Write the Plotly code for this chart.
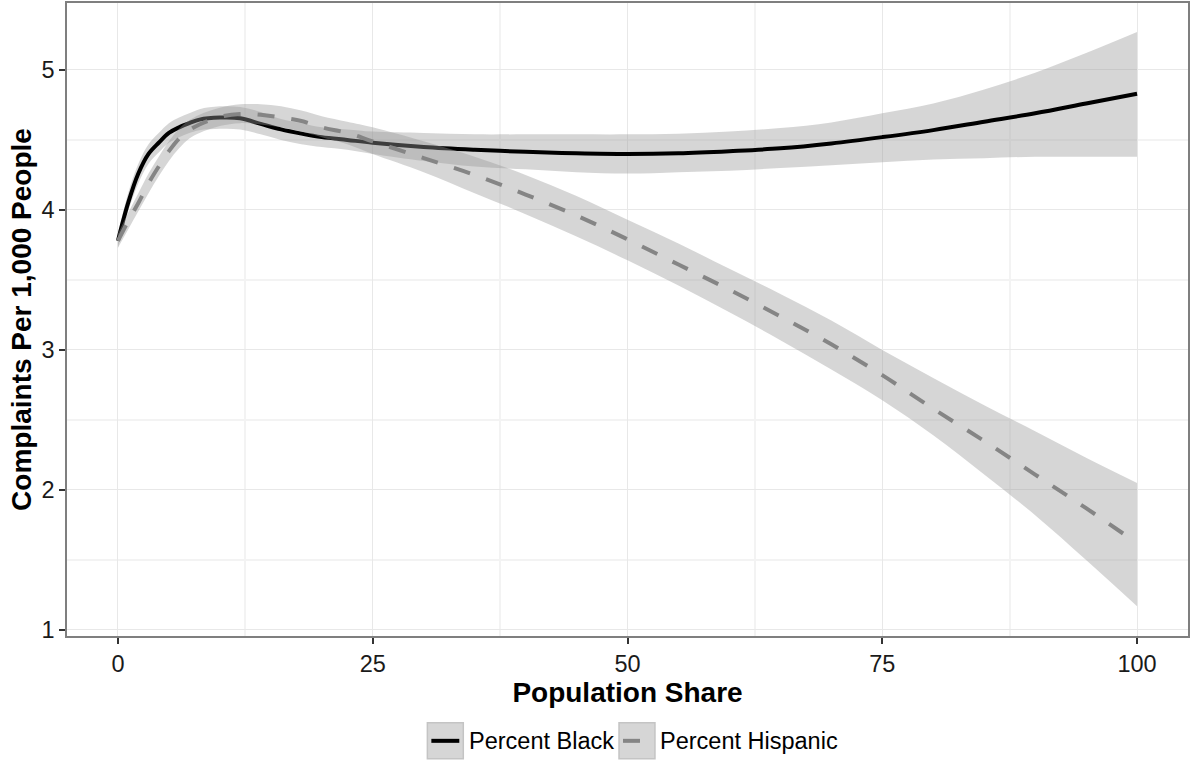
import plotly.graph_objects as go

# ---- data ----
x_share = [0, 1, 2, 3, 4, 5, 6, 7, 8, 10, 12, 14, 16, 18, 20, 22.5, 25, 30, 35, 40,
           45, 50, 55, 60, 65, 70, 75, 80, 85, 90, 95, 100]

black_fit = [3.78, 4.05, 4.26, 4.40, 4.48, 4.55, 4.59, 4.62, 4.645, 4.66, 4.655, 4.615,
             4.575, 4.545, 4.52, 4.50, 4.48, 4.45, 4.43, 4.415, 4.405, 4.40, 4.405, 4.42,
             4.44, 4.475, 4.52, 4.57, 4.63, 4.69, 4.76, 4.83]
black_lower = [3.73, 3.99, 4.19, 4.33, 4.41, 4.48, 4.52, 4.55, 4.57, 4.58, 4.575, 4.54,
               4.50, 4.47, 4.45, 4.43, 4.40, 4.35, 4.31, 4.29, 4.27, 4.26, 4.27, 4.28,
               4.30, 4.32, 4.34, 4.36, 4.37, 4.38, 4.38, 4.38]
black_upper = [3.83, 4.12, 4.33, 4.47, 4.55, 4.62, 4.66, 4.69, 4.72, 4.74, 4.735, 4.70,
               4.65, 4.62, 4.59, 4.575, 4.56, 4.55, 4.54, 4.54, 4.54, 4.54, 4.545, 4.56,
               4.585, 4.625, 4.69, 4.76, 4.86, 4.98, 5.12, 5.27]

hisp_fit = [3.78, 3.92, 4.05, 4.19, 4.31, 4.42, 4.51, 4.57, 4.61, 4.665, 4.685, 4.68,
            4.66, 4.635, 4.59, 4.55, 4.49, 4.37, 4.25, 4.11, 3.96, 3.79, 3.61, 3.43,
            3.24, 3.04, 2.82, 2.58, 2.35, 2.11, 1.87, 1.62]
hisp_lower = [3.73, 3.86, 3.99, 4.12, 4.24, 4.35, 4.44, 4.51, 4.55, 4.60, 4.62, 4.61,
              4.59, 4.56, 4.52, 4.47, 4.40, 4.27, 4.12, 3.97, 3.81, 3.64, 3.46, 3.27,
              3.07, 2.86, 2.64, 2.39, 2.11, 1.82, 1.50, 1.17]
hisp_upper = [3.83, 3.98, 4.12, 4.26, 4.38, 4.49, 4.58, 4.64, 4.68, 4.73, 4.755, 4.755,
              4.74, 4.71, 4.67, 4.63, 4.59, 4.49, 4.38, 4.25, 4.10, 3.93, 3.76, 3.58,
              3.40, 3.21, 3.00, 2.80, 2.605, 2.42, 2.23, 2.05]

series_names = ["Percent Black", "Percent Hispanic"]
x_ticks = [0, 25, 50, 75, 100]
y_ticks = [1, 2, 3, 4, 5]

# ---- styling ----
FONT = "Liberation Sans, Arial, sans-serif"
RIBBON = "rgba(153,153,153,0.4)"
BLACK = "#000000"
GREY = "#858585"
W, H = 1191, 761
ML, MR, MT, MB = 67, 1, 2, 125

fig = go.Figure()


def add_smooth(x, lo, hi, fit, color, dash, name):
    fig.add_trace(go.Scatter(x=x, y=lo, mode="lines", line=dict(width=0, shape="spline"),
                             hoverinfo="skip", showlegend=False))
    fig.add_trace(go.Scatter(x=x, y=hi, mode="lines", line=dict(width=0, shape="spline"),
                             fill="tonexty", fillcolor=RIBBON, hoverinfo="skip",
                             showlegend=False))
    fig.add_trace(go.Scatter(x=x, y=fit, mode="lines", name=name,
                             line=dict(color=color, width=4, dash=dash, shape="spline"),
                             showlegend=False))


add_smooth(x_share, black_lower, black_upper, black_fit, BLACK, "solid", series_names[0])
add_smooth(x_share, hisp_lower, hisp_upper, hisp_fit, GREY, "17px,17px", series_names[1])

axis_common = dict(
    showline=True, linecolor="#7f7f7f", linewidth=1.5, mirror=True,
    ticks="outside", ticklen=6, tickwidth=1.5, tickcolor="#333333",
    tickfont=dict(family=FONT, size=23.5, color="#1a1a1a"),
    showgrid=True, gridcolor="#e8e8e8", gridwidth=1.3, zeroline=False,
)

fig.update_xaxes(
    range=[-5, 105], tickvals=x_ticks, ticktext=[str(v) for v in x_ticks],
    minor=dict(tickvals=[12.5, 37.5, 62.5, 87.5], showgrid=True,
               gridcolor="#f3f3f3", gridwidth=1.5, ticks=""),
    title=dict(text="<b>Population Share</b>", standoff=0,
               font=dict(family=FONT, size=28, color="#000000")),
    **axis_common,
)
fig.update_yaxes(
    range=[0.957, 5.478], tickvals=y_ticks, ticktext=[str(v) for v in y_ticks],
    minor=dict(tickvals=[1.5, 2.5, 3.5, 4.5], showgrid=True,
               gridcolor="#f3f3f3", gridwidth=1.5, ticks=""),
    title=dict(text="<b>Complaints Per 1,000 People</b>", standoff=2,
               font=dict(family=FONT, size=28, color="#000000")),
    **axis_common,
)

# ---- manual legend (bottom, centred) ----
def px_x(p):
    return (p - ML) / (W - ML - MR)


def px_y(p):
    return (H - MB - p) / (H - MT - MB)


shapes = []
annots = []
keys = [(428, 468, BLACK, 432, 460), (620, 659, GREY, 624, 641)]
for i, (bx, tx, col, l0, l1) in enumerate(keys):
    shapes.append(dict(type="rect", xref="paper", yref="paper",
                       x0=px_x(bx), x1=px_x(bx + 36), y0=px_y(759), y1=px_y(723),
                       fillcolor="#d6d6d6", line=dict(color="#c4c4c4", width=1.5)))
    shapes.append(dict(type="line", xref="paper", yref="paper",
                       x0=px_x(l0), x1=px_x(l1), y0=px_y(741), y1=px_y(741),
                       line=dict(color=col, width=4)))
    annots.append(dict(text=series_names[i], xref="paper", yref="paper",
                       x=px_x(tx), y=px_y(741), xanchor="left", yanchor="middle",
                       showarrow=False, font=dict(family=FONT, size=23.5, color="#000000")))

fig.update_layout(
    width=W, height=H, autosize=False,
    margin=dict(l=ML, r=MR, t=MT, b=MB),
    paper_bgcolor="white", plot_bgcolor="white",
    font=dict(family=FONT),
    showlegend=False, shapes=shapes, annotations=annots,
)

fig.write_html("out.html", config={"displayModeBar": False},
               post_script="document.body.style.margin='0';")
